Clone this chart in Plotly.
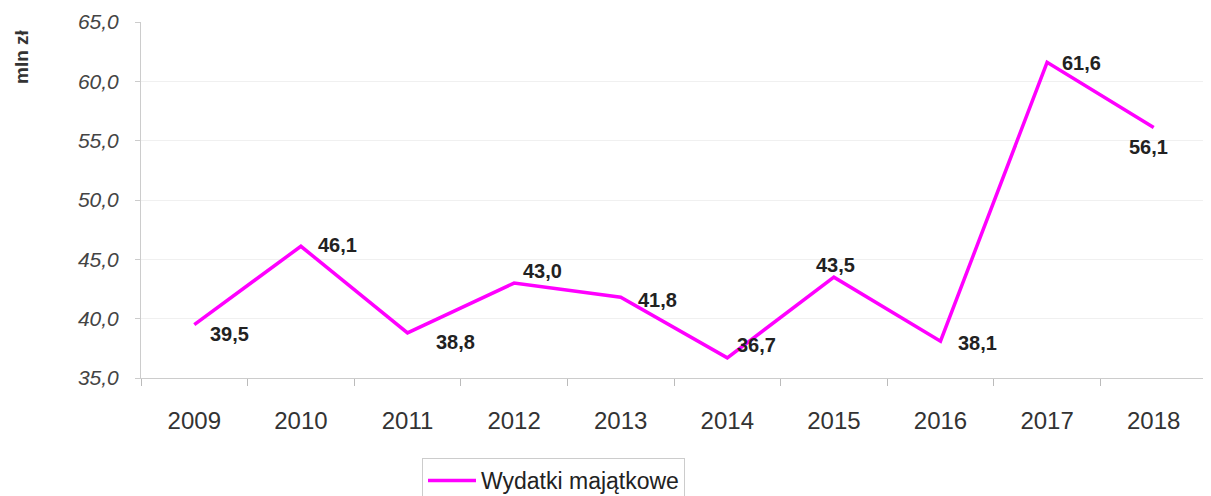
import plotly.graph_objects as go

years = ["2009", "2010", "2011", "2012", "2013", "2014", "2015", "2016", "2017", "2018"]
values = [39.5, 46.1, 38.8, 43.0, 41.8, 36.7, 43.5, 38.1, 61.6, 56.1]
labels = [f"{v:.1f}".replace(".", ",") for v in values]
y_ticks = [35, 40, 45, 50, 55, 60, 65]
y_tick_text = [f"{v:.1f}".replace(".", ",") for v in y_ticks]

# label placement style: (xanchor, xshift px, yshift px)
label_style = [("left", 14, -9), ("left", 15, 1), ("left", 26, -9), ("center", 28, 12),
               ("left", 15, -3), ("left", 8, 13), ("center", 2, 12), ("left", 15, -2),
               ("left", 13, -1), ("center", -5, -19)]

W, H = 1203, 488
L, T, R, B = 133, 14, 4, 118
plot_w, plot_h = W - L - R, H - T - B

fig = go.Figure()
fig.add_trace(go.Scatter(
    x=years, y=values, mode="lines", name="Wydatki majątkowe",
    line=dict(color="#ff00ff", width=3.5),
))
for i, (v, lab, (xa, xs, ys)) in enumerate(zip(values, labels, label_style)):
    fig.add_annotation(
        x=i, y=v, xref="x", yref="y", text=lab, showarrow=False,
        xanchor=xa, yanchor="middle", xshift=xs, yshift=ys,
        font=dict(family="Liberation Sans", size=20, color="#222222", weight="bold"),
    )

fig.update_layout(
    width=W, height=H,
    margin=dict(l=L, r=R, t=T, b=B, autoexpand=False),
    paper_bgcolor="white", plot_bgcolor="white",
    showlegend=True,
    legend=dict(
        orientation="h", x=(414 - L) / plot_w, xanchor="left", y=-80 / plot_h, yanchor="top",
        bordercolor="#cccccc", borderwidth=1, itemwidth=48,
        font=dict(family="Liberation Sans", size=23, color="#222222"),
    ),
    font=dict(family="Liberation Sans"),
)
fig.update_xaxes(
    type="category", categoryorder="array", categoryarray=years,
    range=[-0.5, len(years) - 0.5],
    tickson="boundaries", ticks="outside", ticklen=7, tickcolor="#bbbbbb",
    showline=True, linecolor="#cccccc", linewidth=1, showgrid=False,
    tickfont=dict(family="Liberation Sans", size=24, color="#333333"),
    tickangle=0, ticklabelstandoff=21, automargin=False,
)
fig.update_yaxes(
    range=[35, 65], tickvals=y_ticks, ticktext=y_tick_text,
    showline=True, linecolor="#cccccc", linewidth=1,
    showgrid=True, gridcolor="#f0f0f0", gridwidth=1,
    ticks="outside", ticklen=5, tickcolor="#cccccc",
    tickfont=dict(family="Liberation Sans", size=21, color="#444444", style="italic"),
    ticklabelstandoff=12, zeroline=False, automargin=False,
)
fig.add_annotation(
    text="mln zł", textangle=-90, xref="paper", yref="paper",
    x=(14 - L) / plot_w, y=(H - B - 49) / plot_h, xanchor="center", yanchor="middle", showarrow=False,
    font=dict(family="Liberation Sans", size=19, color="#333333", weight="bold"),
)

fig.write_html("out.html")
